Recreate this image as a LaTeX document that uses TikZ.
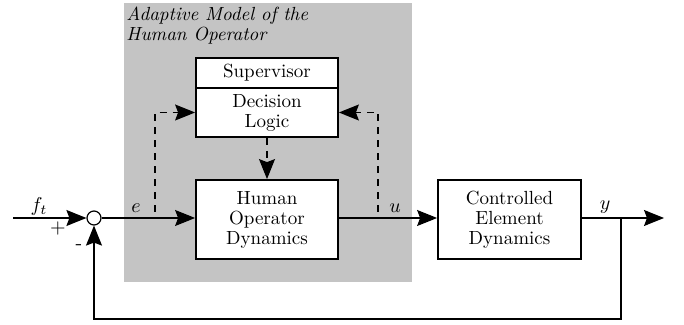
\documentclass[tikz,border=0pt]{standalone}
\usetikzlibrary{arrows.meta}

\tikzset{
  blockbox/.style={draw,line width=0.9pt,fill=white,align=center,inner sep=0pt,
    minimum width=71pt,font=\fontsize{9.5}{10}\selectfont},
  sig/.style={line width=0.6pt,-{Stealth[length=10pt,width=8pt,inset=1.5pt]}},
  sigdash/.style={sig,dash pattern=on 3.5pt off 3pt},
  lbl/.style={inner sep=0pt,font=\fontsize{10}{10}\selectfont}
}

\begin{document}
\begin{tikzpicture}[x=0.5pt,y=-0.5pt]
\useasboundingbox (0,0) rectangle (684,325);
\fill[black!23] (124,3) rectangle (412,282);
\node[anchor=north west,align=left,inner sep=0pt,font=\fontsize{9.5}{10}\selectfont\itshape] (ltitle) at (126,7) {Adaptive Model of the\\Human Operator};

\node[blockbox,minimum height=15pt] (sup) at (267,73) {Supervisor};
\node[blockbox,minimum height=24.5pt] (dec) at (267,112.5) {Decision\\Logic};
\node[blockbox,minimum height=39.5pt] (hod) at (267,219.5) {Human\\Operator\\Dynamics};
\node[blockbox,minimum height=39.5pt,minimum width=71.5pt] (ced) at (509.5,219.5) {Controlled\\Element\\Dynamics};
\node[draw,circle,line width=0.6pt,fill=white,minimum size=7pt,inner sep=0pt] (sum) at (94,218) {};

\coordinate (in) at (13,218);
\coordinate (out) at (664,218);
\coordinate (br) at (621,218);
\coordinate (tapl) at (155,212);
\coordinate (tapr) at (378,212);

\draw[sig] (in) -- (sum);
\draw[sig] (sum) -- (hod.west |- sum);
\draw[sig] (hod.east |- sum) -- (ced.west |- sum);
\draw[sig] (ced.east |- sum) -- (out);
\draw[sig] (br) -- ++(0,101) -| (sum.south);

\draw[sigdash] (tapl) |- (dec.west);
\draw[sigdash] (tapr) |- (dec.east);
\draw[sigdash] (dec.south) -- (hod.north);

\node[lbl] (lf) at (39,207) {$f_t$};
\node[lbl] (lplus) at (58,229) {$+$};
\node[lbl] (lminus) at (79,247) {-};
\node[lbl] (le) at (136,208) {$e$};
\node[lbl] (lu) at (395,208) {$u$};
\node[lbl] (ly) at (605,207) {$y$};
\end{tikzpicture}
\end{document}
